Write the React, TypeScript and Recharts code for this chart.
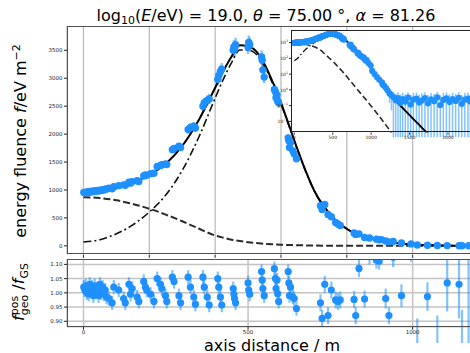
import React from 'react';
import { ComposedChart, Scatter, Line, XAxis, YAxis, CartesianGrid, ErrorBar } from 'recharts';

const FONT = 'DejaVu Sans, sans-serif';
const BLUE = '#1E90FF';
const BAR = 'rgba(30,144,255,0.55)';

// fit curves, sampled along the shower axis distance (m)
const curveDistance = [0, 50, 100, 150, 200, 250, 300, 350, 400, 425, 450, 475, 500, 525, 550, 575, 600, 625, 650, 675, 700, 750, 800, 850, 900, 950, 1000, 1050, 1100, 1150, 1200, 1250, 1300, 1350, 1400, 1450, 1500, 1550, 1600, 1650, 1700, 1750];
const fitTotal = [940, 965, 1030, 1125, 1270, 1470, 1790, 2250, 2830, 3130, 3390, 3590, 3570, 3480, 3250, 2930, 2560, 2150, 1730, 1340, 1000, 560, 305, 175, 100, 52, 25, 11, 4.5, 2.2, 1.2, 0.55, 0.28, 0.14, 0.08, 0.045, 0.025, 0.014, 0.008, 0.0045, 0.0026, 0.0015];
const fitCore = [870, 855, 815, 750, 665, 560, 440, 310, 185, 145, 110, 85, 65, 50, 37, 27, 20, 15, 11, 8, 5.5, 2.8, 1.4, 0.72, 0.37, 0.19, 0.095, 0.047, 0.023, 0.011, 0.0052, 0.0024, 0.0011, null, null, null, null, null, null, null, null, null];
const fitRing = [70, 110, 215, 375, 605, 910, 1350, 1940, 2645, 2985, 3280, 3505, 3505, 3430, 3213, 2903, 2540, 2135, 1719, 1332, 995, 557, 304, 174, 100, 52, 25, 11, 4.5, 2.2, 1.2, 0.55, 0.28, 0.14, 0.08, 0.045, 0.025, 0.014, 0.008, 0.0045, 0.0026, 0.0015];

// stations
const stationDistance = [1, 4, 7, 10, 13, 16, 19, 22, 26, 30, 34, 38, 42, 46, 50, 54, 58, 62, 66, 70,
  77, 87, 92, 107, 122, 127, 138, 143, 148, 163, 168, 183, 188, 192, 204, 214, 224, 234, 238, 249,
  253, 270, 275, 290, 295, 318, 325, 335, 340, 363, 367, 376, 382, 408, 411, 416, 420, 455, 457, 459,
  462, 500, 502, 505, 541, 543, 545, 549, 580, 583, 588, 585, 590, 593, 622, 624, 629, 626, 636, 640,
  647, 720, 725, 733, 743, 753, 766, 773, 780, 822, 827, 837, 854, 869, 890, 898, 905, 918, 928, 941,
  966, 995, 1014, 1045, 1075, 1105, 1141, 1150, 1170];
const stationFluence = [958, 950, 962, 955, 968, 960, 972, 965, 978, 970, 985, 976, 990, 982, 998, 990, 1005, 1000, 1012, 1018,
  1030, 1022, 1060, 1078, 1092, 1085, 1140, 1122, 1150, 1165, 1152, 1252, 1270, 1262, 1292, 1300, 1420, 1440, 1452, 1468,
  1456, 1722, 1742, 1782, 1760, 2082, 2120, 2142, 2110, 2500, 2560, 2602, 2630, 2980, 3050, 3120, 3160, 3500, 3560, 3520,
  3600, 3560, 3640, 3600, 3380, 3320, 3150, 3020, 2800, 2760, 2700, 2650, 2590, 2560, 1930, 1880, 1850, 1760, 1700, 1650,
  1560, 720, 650, 740, 560, 520, 420, 390, 365, 232, 205, 215, 150, 140, 120, 108, 112, 88, 72, 78,
  50, 35, 16, 10, 6.5, 4.5, 3.0, 2.2, 1.8];
const stationFluenceErr = [34, 33, 34, 33, 34, 34, 34, 34, 34, 34, 34, 34, 35, 34, 35, 35, 35, 35, 35, 36,
  36, 36, 37, 38, 38, 38, 40, 39, 40, 41, 40, 44, 44, 44, 45, 46, 50, 50, 51, 51,
  51, 60, 61, 62, 62, 73, 74, 75, 74, 88, 90, 91, 92, 104, 107, 109, 111, 122, 125, 123,
  126, 125, 127, 126, 118, 116, 110, 106, 98, 97, 95, 93, 91, 90, 68, 66, 65, 62, 60, 58,
  55, 25, 23, 26, 20, 18, 15, 14, 13, 9, 8, 8, 6, 6, 5, 5, 5, 4, 3, 3,
  2.5, 2, 1.5, 1.2, 1.1, 1.0, 0.9, 0.9, 0.8];
const stationRatio = [1.02, 1.01, 1.025, 1.0, 1.015, 0.995, 1.03, 1.01, 1.02, 0.99, 1.025, 1.005, 1.015, 0.99, 1.03, 1.0, 1.02, 0.995, 1.01, 0.985,
  0.98, 0.965, 1.02, 1.01, 0.98, 0.965, 1.03, 0.995, 1.015, 0.985, 0.97, 1.04, 1.02, 1.01, 0.995, 0.97, 1.05, 1.03, 1.015, 0.99,
  0.97, 1.055, 1.04, 0.99, 0.965, 1.055, 1.02, 0.985, 0.96, 1.055, 1.02, 0.985, 0.957, 1.05, 1.02, 0.985, 0.957, 1.015, 0.995, 0.98,
  0.965, 1.035, 1.01, 0.995, 1.075, 1.045, 1.015, 0.99, 1.085, 1.05, 1.045, 1.015, 0.997, 0.97, 1.075, 1.035, 1.02, 0.99, 0.985, 0.98,
  0.945, 0.965, 0.91, 1.03, 0.92, 1.01, 0.975, 0.97, 0.975, 0.977, 0.92, 1.086, 0.978, 1.14, 1.115, 1.112, 1.14, 0.98, 0.92, 1.125,
  0.99, 1.16, 0.75, 0.987, 0.70, 1.035, 1.03, 0.6, 0.5];
const stationRatioErr = [0.025, 0.025, 0.025, 0.025, 0.025, 0.025, 0.025, 0.025, 0.025, 0.025, 0.025, 0.025, 0.025, 0.025, 0.025, 0.025, 0.025, 0.025, 0.025, 0.025,
  0.025, 0.025, 0.025, 0.025, 0.025, 0.025, 0.025, 0.025, 0.025, 0.025, 0.025, 0.025, 0.025, 0.025, 0.025, 0.025, 0.025, 0.025, 0.025, 0.025,
  0.025, 0.025, 0.025, 0.025, 0.025, 0.025, 0.025, 0.025, 0.025, 0.025, 0.025, 0.025, 0.025, 0.025, 0.025, 0.025, 0.025, 0.025, 0.025, 0.025,
  0.025, 0.025, 0.025, 0.025, 0.025, 0.025, 0.025, 0.025, 0.025, 0.025, 0.025, 0.025, 0.025, 0.025, 0.025, 0.025, 0.025, 0.025, 0.025, 0.025,
  0.025, 0.03, 0.03, 0.03, 0.03, 0.03, 0.03, 0.03, 0.03, 0.03, 0.03, 0.03, 0.03, 0.04, 0.03, 0.03, 0.04, 0.035, 0.03, 0.035,
  0.04, 0.05, 0.16, 0.05, 0.22, 0.10, 0.12, 0.34, 0.7];

// far stations, only seen in the log inset
const tailDistance = [1195, 1215, 1240, 1265, 1290, 1320, 1350, 1380, 1410, 1445, 1480, 1515, 1550, 1590, 1625, 1660, 1700, 1740, 1780, 1820, 1860, 1900, 1940, 1980, 2020, 2060, 2100, 2140, 2180, 2220, 2260, 2290];
const tailFluence = [1.3, 0.9, 0.6, 0.45, 0.35, 0.22, 0.3, 0.15, 0.26, 0.18, 0.32, 0.12, 0.24, 0.28, 0.16, 0.21, 0.3, 0.14, 0.25, 0.19, 0.33, 0.11, 0.23, 0.29, 0.17, 0.26, 0.2, 0.31, 0.13, 0.24, 0.28, 0.18];
const tailFluenceErr = [0.6, 0.5, 0.45, 0.4, 0.4, 0.35, 0.4, 0.35, 0.4, 0.35, 0.4, 0.35, 0.4, 0.4, 0.35, 0.4, 0.4, 0.35, 0.4, 0.35, 0.4, 0.35, 0.4, 0.4, 0.35, 0.4, 0.35, 0.4, 0.35, 0.4, 0.4, 0.35];

const gridTicksX = [0, 200, 400, 600, 800, 1000];
const residualTicksX = [0, 500, 1000];
const fluenceTicks = [0, 500, 1000, 1500, 2000, 2500, 3000, 3500];
const ratioTicks = [0.9, 0.95, 1.0, 1.05, 1.1];
const insetTicksX = [0, 500, 1000, 1500, 2000];
const insetTicksY = [0.01, 0.1, 1, 10, 100, 1000];

const curve = (vals: (number | null)[]) => curveDistance.map((x, i) => ({ x, y: vals[i] }));
const totalCurve = curve(fitTotal);
const coreCurve = curve(fitCore);
const ringCurve = curve(fitRing);

const mainPoints = stationDistance.map((x, i) => ({ x, y: stationFluence[i], ey: stationFluenceErr[i] }));
const ratioPoints = stationDistance.map((x, i) => ({ x, y: stationRatio[i], ey: stationRatioErr[i] }));
const FLOOR = 0.001;
const insetPoints = [
  ...stationDistance.map((x, i) => ({ x, y: stationFluence[i], e: stationFluenceErr[i] })),
  ...tailDistance.map((x, i) => ({ x, y: tailFluence[i], e: tailFluenceErr[i] })),
].map((p) => ({ x: p.x, y: p.y, ey: [Math.min(p.e, p.y - FLOOR), p.e] }));

const dot = (r: number) => (p: any) =>
  Number.isFinite(p.cx) && Number.isFinite(p.cy) ? <circle cx={p.cx} cy={p.cy} r={r} fill={BLUE} /> : <g />;

function LogTick(props: any) {
  const { x, y, payload } = props;
  const e = Math.round(Math.log10(payload.value));
  const exp = e < 0 ? '\u2212' + Math.abs(e) : String(e);
  return (
    <text x={x} y={y} dy={1.8} textAnchor="end" fontSize={4.5} fill="#222" fontFamily={FONT}>
      10<tspan dy={-2} fontSize={3.2}>{exp}</tspan>
    </text>
  );
}

const tickStyle = { fontSize: 5.5, fill: '#222', fontFamily: FONT };
const frame = (left: number, top: number, width: number, height: number, color: string, bw: number) => (
  <div style={{ position: 'absolute', left, top, width, height, border: `${bw}px solid ${color}`, boxSizing: 'border-box', pointerEvents: 'none' }} />
);

export default function App() {
  return (
    <div style={{ position: 'absolute', left: 0, top: 0, width: 470, height: 353, overflow: 'hidden', background: '#fff', fontFamily: FONT }}>
      {/* main panel */}
      <div style={{ position: 'absolute', left: 26.5, top: 25.5 }}>
        <ComposedChart width={451.5} height={236.8} margin={{ top: 0, right: 0, bottom: 0, left: 0 }}>
          <CartesianGrid horizontal={false} stroke="#b8b8b8" strokeWidth={1.2} />
          <XAxis type="number" dataKey="x" domain={[-50, 1200]} allowDataOverflow ticks={gridTicksX} tickFormatter={() => ''}
            height={8} tickSize={3} axisLine={false} tickLine={{ stroke: '#222' }} interval={0} />
          <YAxis type="number" dataKey="y" domain={[-160, 3935]} allowDataOverflow ticks={fluenceTicks} width={40} interval={0}
            tickSize={3} tickMargin={1.5} axisLine={false} tick={tickStyle} tickLine={{ stroke: '#222' }} />
          <Scatter data={mainPoints} isAnimationActive={false} shape={dot(3.7)}>
            <ErrorBar dataKey="ey" direction="y" width={0} stroke={BAR} strokeWidth={2.4} isAnimationActive={false} />
          </Scatter>
          <Line data={coreCurve} dataKey="y" type="monotone" stroke="#2b2b2b" strokeWidth={2} strokeDasharray="7 3" dot={false} isAnimationActive={false} />
          <Line data={ringCurve} dataKey="y" type="monotone" stroke="#111" strokeWidth={1.6} strokeDasharray="8 3 2 3" dot={false} isAnimationActive={false} />
          <Line data={totalCurve} dataKey="y" type="monotone" stroke="#000" strokeWidth={2} dot={false} isAnimationActive={false} />
        </ComposedChart>
      </div>

      {/* residual panel */}
      <div style={{ position: 'absolute', left: 26.5, top: 259 }}>
        <ComposedChart width={451.5} height={83.7} margin={{ top: 0, right: 0, bottom: 0, left: 0 }}>
          <CartesianGrid stroke="#c4c4c4" strokeWidth={1.5} />
          <XAxis type="number" dataKey="x" domain={[-50, 1200]} allowDataOverflow ticks={residualTicksX} height={16} interval={0}
            tickSize={3} tickMargin={0.5} axisLine={false} tick={tickStyle} tickLine={{ stroke: '#222' }} />
          <YAxis type="number" dataKey="y" domain={[0.881, 1.119]} allowDataOverflow ticks={ratioTicks} width={40} interval={0}
            tickSize={3} tickMargin={1.5} axisLine={false} tick={tickStyle} tickLine={{ stroke: '#222' }}
            tickFormatter={(v: number) => v.toFixed(2)} />
          <Scatter data={ratioPoints} isAnimationActive={false} shape={dot(3.6)}>
            <ErrorBar dataKey="ey" direction="y" width={0} stroke={BAR} strokeWidth={2.2} isAnimationActive={false} />
          </Scatter>
        </ComposedChart>
      </div>

      {frame(66.5, 25.5, 420, 228.8, '#505050', 1.5)}
      {frame(66.5, 259, 420, 67.7, '#505050', 1.5)}

      {/* inset, log scale */}
      <div style={{ position: 'absolute', left: 291, top: 29.7, width: 180, height: 102.6, background: '#fff' }} />
      <div style={{ position: 'absolute', left: 275, top: 29.7 }}>
        <ComposedChart width={196} height={112.6} margin={{ top: 0, right: 0, bottom: 0, left: 0 }}>
          <XAxis type="number" dataKey="x" domain={[-43, 2300]} allowDataOverflow ticks={insetTicksX} height={10} interval={0}
            tickSize={2} tickMargin={1} axisLine={false} tick={{ fontSize: 4.5, fill: '#222', fontFamily: FONT }} tickLine={{ stroke: '#222' }} />
          <YAxis type="number" dataKey="y" scale="log" domain={[0.00195, 6300]} allowDataOverflow ticks={insetTicksY} interval={0}
            width={16} tickSize={2} tickMargin={1} axisLine={false} tick={<LogTick />} tickLine={{ stroke: '#222' }} />
          <Scatter data={insetPoints} isAnimationActive={false} shape={dot(3.1)}>
            <ErrorBar dataKey="ey" direction="y" width={0} stroke={BAR} strokeWidth={1.5} isAnimationActive={false} />
          </Scatter>
          <Line data={coreCurve.filter((p) => p.y !== null)} dataKey="y" type="monotone" stroke="#2b2b2b" strokeWidth={1.6} strokeDasharray="6 3" dot={false} isAnimationActive={false} />
          <Line data={ringCurve} dataKey="y" type="monotone" stroke="#111" strokeWidth={1.3} strokeDasharray="6 2.5 1.5 2.5" dot={false} isAnimationActive={false} />
          <Line data={totalCurve} dataKey="y" type="monotone" stroke="#000" strokeWidth={1.8} dot={false} isAnimationActive={false} />
        </ComposedChart>
      </div>
      {frame(291, 29.7, 180, 102.6, '#222', 1)}

      {/* texts */}
      <svg width={470} height={353} style={{ position: 'absolute', left: 0, top: 0, pointerEvents: 'none' }} fontFamily={FONT}>
        <text x={266} y={20.5} textAnchor="middle" fontSize={16} fill="#000">
          log<tspan dy={3.5} fontSize={11}>10</tspan><tspan dy={-3.5}>(</tspan><tspan fontStyle="italic">E</tspan>/eV) = 19.0, <tspan fontStyle="italic">θ</tspan> = 75.00 °, <tspan fontStyle="italic">α</tspan> = 81.26
        </text>
        <text transform="translate(26,141) rotate(-90)" textAnchor="middle" fontSize={16} fill="#000">
          energy fluence <tspan fontStyle="italic">f</tspan>/eV m<tspan dy={-6} fontSize={11}>−2</tspan>
        </text>
        <text transform="translate(24,292) rotate(-90)" textAnchor="middle" fontSize={16} fill="#000">
          <tspan fontStyle="italic">f</tspan><tspan fontSize={11} dy={-6}>pos</tspan><tspan fontSize={11} dx={-19.4} dy={9.5}>geo</tspan><tspan dy={-3.5}> /</tspan><tspan fontStyle="italic">f</tspan><tspan fontSize={11} dy={3.5}>GS</tspan>
        </text>
        <text x={272} y={350.5} textAnchor="middle" fontSize={16} fill="#000">axis distance / m</text>
      </svg>
    </div>
  );
}
